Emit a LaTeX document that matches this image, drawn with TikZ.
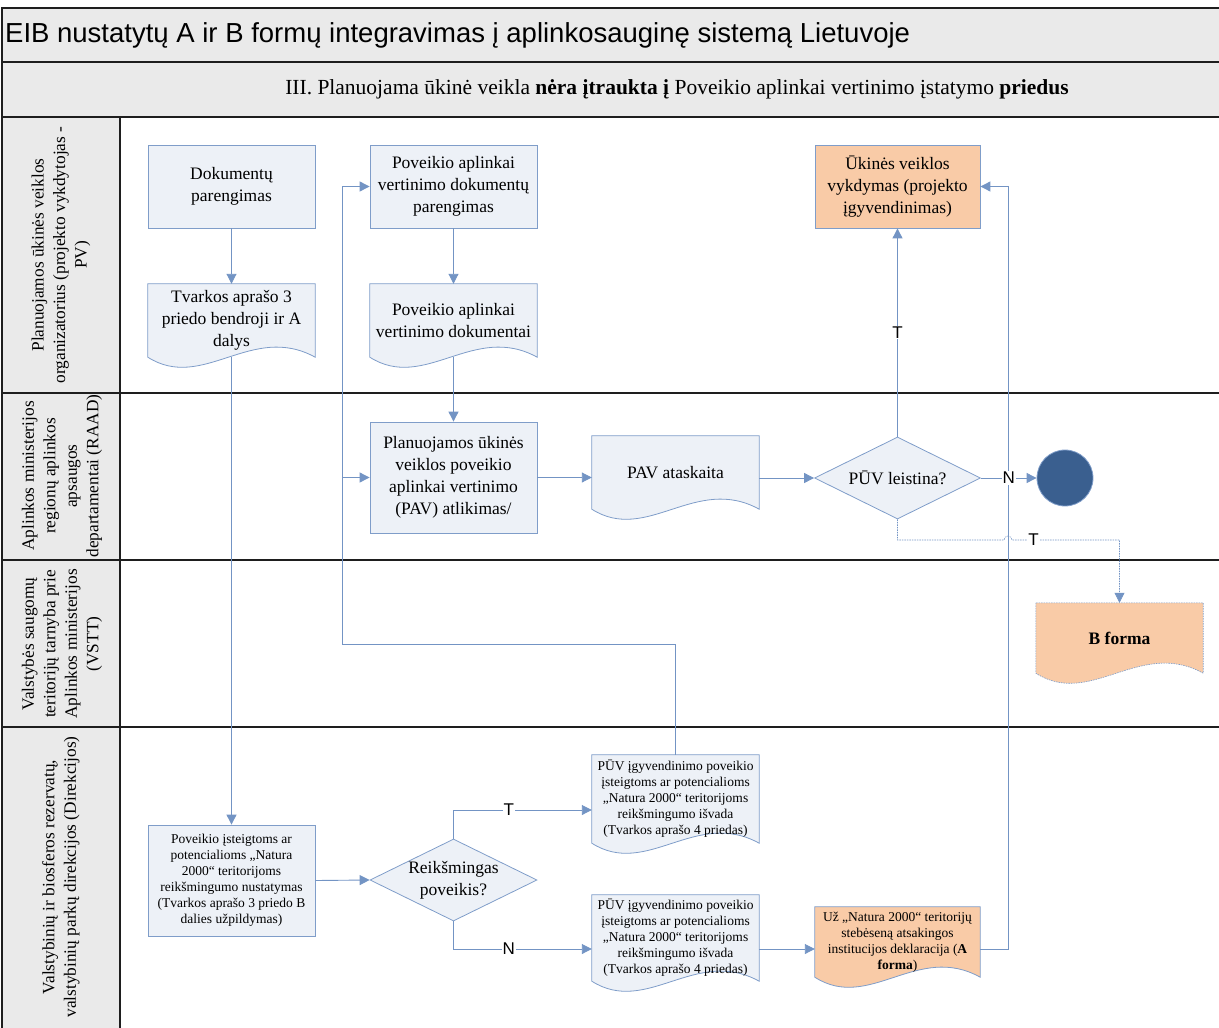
\documentclass[tikz,border=0pt]{standalone}
\usepackage{fontspec}
\setmainfont{Liberation Serif}
\newfontfamily\titlefont{Liberation Sans}
\usetikzlibrary{arrows.meta,calc,backgrounds,shapes.geometric}

\definecolor{boxfill}{HTML}{EDF1F7}
\definecolor{boxline}{HTML}{7F9DC9}
\definecolor{orangefill}{HTML}{F9CBA7}
\definecolor{conn}{HTML}{7394C4}
\definecolor{endfill}{HTML}{3A5F8F}
\definecolor{hdrfill}{HTML}{EAEAEA}
\definecolor{lanecol}{HTML}{1E1E1E}

\tikzset{
  laneline/.style={draw=lanecol, line width=1.4pt},
  big/.style={font=\fontsize{17.5}{22}\selectfont, align=center, inner sep=0pt},
  small/.style={font=\fontsize{13.5}{16}\selectfont, align=center, inner sep=0pt},
  procbox/.style={draw=boxline, fill=boxfill, line width=0.8pt, minimum width=167pt, minimum height=#1},
  procbox/.default=83pt,
  docnode/.style={minimum width=167pt, minimum height=#1},
  docnode/.default=73pt,
  decbox/.style={diamond, draw=boxline, fill=boxfill, line width=0.8pt, minimum width=166pt, minimum height=82pt, inner sep=0pt},
  connector/.style={draw=conn, line width=0.9pt, -{Triangle[length=10pt,width=10pt]}},
  thinconn/.style={draw=conn, line width=0.6pt, dash pattern=on 1.5pt off 1pt, -{Triangle[length=10pt,width=10pt]}},
  lbl/.style={font=\titlefont\fontsize{17}{17}\selectfont, fill=white, inner sep=1pt},
  lanelbl/.style={font=\fontsize{17.3}{21.5}\selectfont, align=center, rotate=90, inner sep=0pt}
}

\newcommand{\docshape}[3]{%
  \path[fill=#2, draw=boxline, line width=0.8pt, #3] (#1.north west) -- (#1.south west)
    .. controls ($(#1.south west)!0.33!(#1.south east)+(0,35)$) and ($(#1.south west)!0.62!(#1.south east)+(0,-35)$) ..
    (#1.south east) -- (#1.north east) -- cycle;}

\begin{document}
\begin{tikzpicture}[x=1pt,y=-1pt]
\useasboundingbox (0,0) rectangle (1219,1028);

% header bands and lane headers
\fill[hdrfill] (2,8) rectangle (1219,117);
\fill[hdrfill] (2,117) rectangle (120,1028);
\draw[laneline] (2,1028) -- (2,8) -- (1219,8);
\draw[laneline] (2,62) -- (1219,62);
\foreach \yy in {117,393,560,727} \draw[laneline] (2,\yy) -- (1219,\yy);
\draw[laneline] (120,117) -- (120,1028);

\node[anchor=west, font=\titlefont\fontsize{27.5}{27.5}\selectfont, inner sep=0pt] (title) at (5,35)
  {EIB nustatytų A ir B formų integravimas į aplinkosauginę sistemą Lietuvoje};
\node[font=\fontsize{21.5}{21.5}\selectfont, inner sep=0pt] (sub) at (677,89)
  {III. Planuojama ūkinė veikla \textbf{nėra įtraukta į} Poveikio aplinkai vertinimo įstatymo \textbf{priedus}};

\node[lanelbl] (lane1) at (61,255) {Planuojamos ūkinės veiklos\\organizatorius (projekto vykdytojas -\\PV)};
\node[lanelbl] (lane2) at (62,476) {Aplinkos ministerijos\\regionų aplinkos\\apsaugos\\departamentai (RAAD)};
\node[lanelbl] (lane3) at (62,644) {Valstybės saugomų\\teritorijų tarnyba prie\\Aplinkos ministerijos\\(VSTT)};
\node[lanelbl] (lane4) at (61,877) {Valstybinių ir biosferos rezervatų,\\valstybinių parkų direkcijos (Direkcijos)};

% nodes
\node[procbox, big] (dok) at (231.5,186.5) {Dokumentų\\parengimas};
\node[docnode, big] (tvark) at (231.5,320.5) {Tvarkos aprašo 3\\priedo bendroji ir A\\dalys};
\node[procbox, big] (pavdp) at (453.5,186.5) {Poveikio aplinkai\\vertinimo dokumentų\\parengimas};
\node[docnode, big] (pavd) at (453.5,320.5) {Poveikio aplinkai\\vertinimo dokumentai};
\node[procbox=111pt, big] (pavatl) at (453.5,477.5) {Planuojamos ūkinės\\veiklos poveikio\\aplinkai vertinimo\\(PAV) atlikimas/};
\node[docnode, big] (pavat) at (675.5,472.5) {PAV ataskaita};
\node[decbox, label={[big]center:PŪV leistina?}] (leist) at (897.5,478) {};
\node[circle, draw=boxline, fill=endfill, line width=0.8pt, minimum size=56pt, inner sep=0pt] (endc) at (1065,478) {};
\node[procbox, big, fill=orangefill, minimum width=165pt] (ukin) at (897.5,186.5) {Ūkinės veiklos\\vykdymas (projekto\\įgyvendinimas)};
\node[docnode=70pt, big] (bform) at (1119.5,638) {\textbf{B forma}};
\node[procbox=111pt, small] (nust) at (231.5,880.5) {Poveikio įsteigtoms ar\\potencialioms „Natura\\2000“ teritorijoms\\reikšmingumo nustatymas\\(Tvarkos aprašo 3 priedo B\\dalies užpildymas)};
\node[decbox, minimum width=167pt, label={[big]center:{Reikšmingas\\poveikis?}}] (reik) at (453.5,880) {};
\node[docnode=88pt, small] (isv1) at (675.5,799) {PŪV įgyvendinimo poveikio\\įsteigtoms ar potencialioms\\„Natura 2000“ teritorijoms\\reikšmingumo išvada\\(Tvarkos aprašo 4 priedas)};
\node[docnode=86pt, small] (isv2) at (675.5,938) {PŪV įgyvendinimo poveikio\\įsteigtoms ar potencialioms\\„Natura 2000“ teritorijoms\\reikšmingumo išvada\\(Tvarkos aprašo 4 priedas)};
\node[docnode=70pt, small, minimum width=165pt] (afor) at (897.5,942) {Už „Natura 2000“ teritorijų\\stebėseną atsakingos\\institucijos deklaracija (\textbf{A}\\\textbf{forma})};

\begin{scope}[on background layer]
  \docshape{tvark}{boxfill}{}
  \docshape{pavd}{boxfill}{}
  \docshape{pavat}{boxfill}{}
  \docshape{bform}{orangefill}{line width=0.6pt, dash pattern=on 1.5pt off 1pt}
  \docshape{isv1}{boxfill}{}
  \docshape{isv2}{boxfill}{}
  \docshape{afor}{orangefill}{}
\end{scope}

% helper coordinates
\coordinate (loopc) at (342,644);
\coordinate (rightc) at (1008,949);
\coordinate (hop) at (1008,540);

% connectors
\draw[connector] (dok.south) -- (tvark.north);
\draw[connector] (tvark.south) -- (nust.north);
\draw[connector] (pavdp.south) -- (pavd.north);
\draw[connector] (pavd.south) -- (pavatl.north);
\draw[connector] (pavatl.east) -- (pavatl.east -| pavat.west);
\draw[connector] (leist.west -| pavat.east) -- (leist.west);
\draw[connector] (nust.east) -- (reik.west);
\draw[connector] (reik.north) |- node[lbl, pos=0.7] {T} ($(isv1.west)+(0,11)$);
\draw[connector] (reik.south) |- node[lbl, pos=0.7] {N} ($(isv2.west)+(0,11)$);
\draw[connector] (isv1.north) |- (loopc) |- (pavdp.west);
\draw[connector] (loopc |- pavatl.west) -- (pavatl.west);
\draw[connector] ($(isv2.east)+(0,11)$) -- (afor.west |- rightc);
\draw[connector] (afor.east |- rightc) -- (rightc) |- (ukin.east);
\draw[connector] (leist.north) -- node[lbl] {T} (ukin.south);
\draw[thinconn] (leist.south) |- ($(hop)+(-4,0)$) arc[start angle=180, end angle=0, radius=4pt]
  -- node[lbl, pos=0.2] {T} (bform.north |- hop) -- (bform.north);
\draw[connector] (leist.east) -- node[lbl] {N} (endc.west);
\end{tikzpicture}
\end{document}
